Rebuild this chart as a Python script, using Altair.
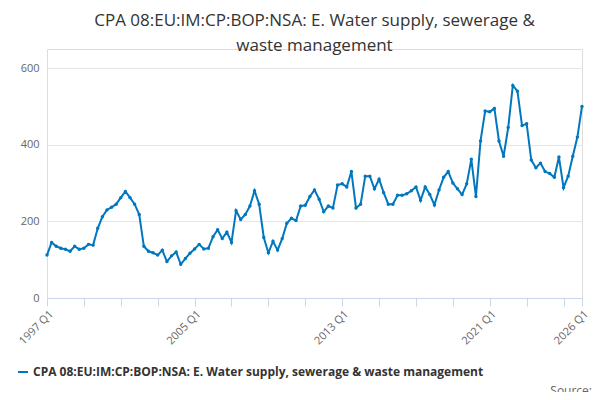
import altair as alt
import pandas as pd

series_name = "CPA 08:EU:IM:CP:BOP:NSA: E. Water supply, sewerage & waste management"
start_year = 1997
values = [
    112, 145, 135, 130, 127, 122, 135, 127, 130, 140, 138, 182, 212, 230, 237,
    245, 262, 278, 262, 245, 218, 135, 122, 118, 112, 125, 95, 110, 120,
    88, 103, 117, 128, 140, 128, 130, 160, 178, 155, 172, 145, 228, 205, 218,
    240, 280, 245, 158, 118, 148, 125, 155, 195, 208, 202, 240, 242, 265, 282,
    258, 225, 240, 235, 295, 298, 290, 330, 235, 245, 318, 318, 285, 310, 275,
    245, 245, 268, 268, 272, 280, 290, 255, 290, 270, 243, 282, 315, 330, 300,
    285, 270, 298, 362, 265, 410, 488, 486, 495, 410, 370, 445, 555, 540, 450,
    455, 360, 340, 352, 330, 325, 315, 368, 288, 318, 370, 420, 500,
]
shown_labels = {0: "1997 Q1", 32: "2005 Q1", 64: "2013 Q1", 96: "2021 Q1", 116: "2026 Q1"}

df = pd.DataFrame({"i": range(len(values)), "value": values, "series": series_name})

label_expr = " : ".join(
    f"datum.value == {k} ? '{v}'" for k, v in shown_labels.items()
) + " : ''"

line = alt.Chart(df).mark_line(
    point=alt.OverlayMarkDef(size=12, filled=True), strokeWidth=2
).encode(
    x=alt.X("i:Q", scale=alt.Scale(domain=[0, 116], nice=False),
            axis=alt.Axis(title=None, grid=False, values=list(range(0, 116, 8)) + [116],
                          labelExpr=label_expr, labelAngle=-45, labelAlign="right",
                          labelColor="#666", labelFontSize=11, domainColor="#ccd6eb",
                          tickColor="#ccd6eb", tickSize=8, labelOverlap=False)),
    y=alt.Y("value:Q", scale=alt.Scale(domain=[0, 650], nice=False),
            axis=alt.Axis(title=None, values=[0, 200, 400, 600], domain=False, ticks=False,
                          labelColor="#666", labelFontSize=11, gridColor="#e6e6e6",
                          labelPadding=8)),
    color=alt.Color("series:N", scale=alt.Scale(range=["#0077be"]),
                    legend=alt.Legend(title=None, orient="none", legendX=-30, legendY=317,
                                      labelFontWeight="bold", labelFontSize=12,
                                      labelColor="#333", symbolType="stroke",
                                      symbolStrokeWidth=2, labelLimit=600)),
)

source = alt.Chart(pd.DataFrame({"t": ["Source:"]})).mark_text(
    align="right", fontSize=12, color="#666", font="Open Sans"
).encode(x=alt.value(545), y=alt.value(342), text="t:N")

chart = (line + source).properties(
    width=535, height=249,
    autosize=alt.AutoSizeParams(type="none"),
    padding={"left": 39, "top": 41, "right": 10, "bottom": 94},
    title=alt.Title(["CPA 08:EU:IM:CP:BOP:NSA: E. Water supply, sewerage &",
                     "waste management"], fontSize=17, font="Open Sans",
                    fontWeight="normal", color="#333", anchor="middle", offset=-6,
                    lineHeight=25),
).configure_view(stroke=None).configure(font="Open Sans")

chart.save("out.html", embed_options={"renderer": "svg", "actions": False})
